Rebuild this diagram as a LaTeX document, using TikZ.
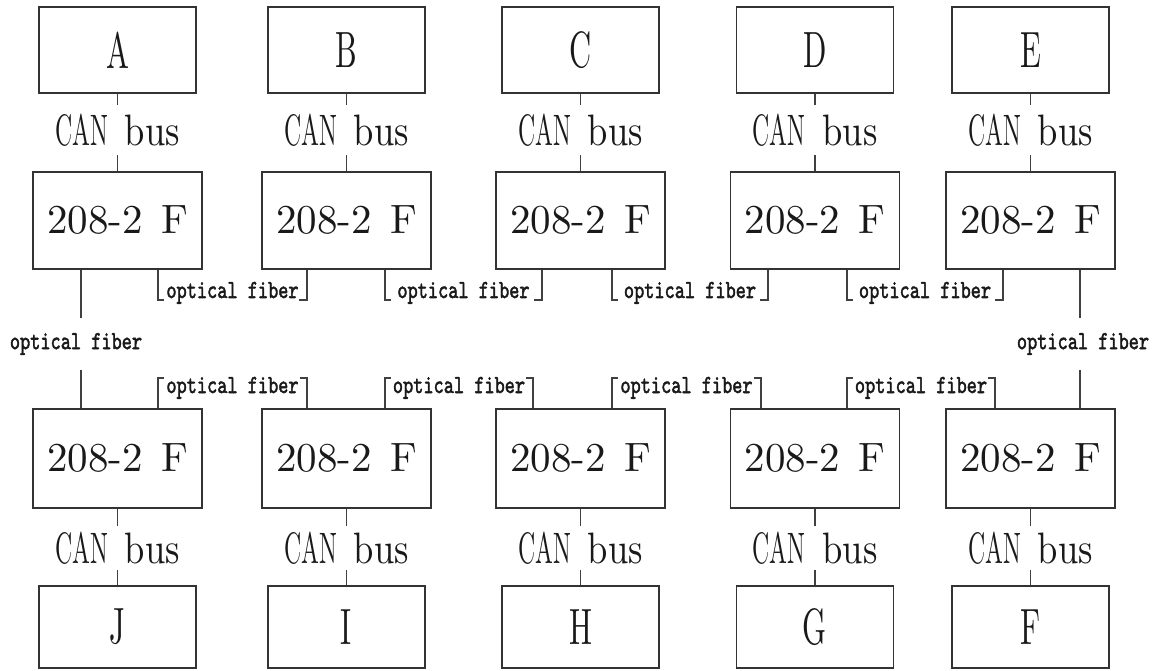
\documentclass[tikz,border=0pt]{standalone}
\usepackage{fontspec}
\usepackage{graphicx}
\newfontfamily\cnserif{lmroman10-regular.otf}
\newfontfamily\fibmono{lmmono10-regular.otf}[FakeBold=2]
\newcommand\bigletter[1]{\scalebox{0.6}[1]{\fontsize{51}{51}\selectfont\cnserif #1}}
\newcommand\canbus{{\fontsize{44}{44}\selectfont\cnserif\scalebox{0.54}[1]{CAN}\hspace{17pt}\scalebox{0.83}[1]{bus}}}
\newcommand\unitlabel{{\fontsize{41}{41}\selectfont\cnserif 208-2\hspace{0.45em}F}}
\newcommand\fibtext{\scalebox{0.745}[1]{\fontsize{26}{26}\selectfont\fibmono optical fiber}}
% top-row bracket pair: #1 left unit, #2 right unit, #3 xL, #4 xR, #5 name
\newcommand\fibdown[5]{%
  \node[lbl, anchor=base] (#5) at ({(#3+#4)/2},298) {\fibtext};
  \coordinate (#5xl) at (#3,0);
  \coordinate (#5xr) at (#4,0);
  \coordinate (#5hl) at ({#3+6},300);
  \coordinate (#5hr) at ({#4-8},300);
  \draw[ln] (#1.south -| #5xl) |- (#5hl);
  \draw[ln] (#2.south -| #5xr) |- (#5hr);
}
\newcommand\fibup[5]{%
  \node[lbl, anchor=base] (#5) at ({(#3+#4)/2},393) {\fibtext};
  \coordinate (#5xl) at (#3,0);
  \coordinate (#5xr) at (#4,0);
  \coordinate (#5hl) at ({#3+6},378);
  \coordinate (#5hr) at ({#4-7},378);
  \draw[ln] (#1.north -| #5xl) |- (#5hl);
  \draw[ln] (#2.north -| #5xr) |- (#5hr);
}
\begin{document}
\begin{tikzpicture}[x=1pt,y=-1pt,
  box/.style={draw=black!80, line width=1.5pt, inner sep=0pt, text=black!90},
  letterbox/.style={box, minimum width=157pt, minimum height=86pt},
  unitbox/.style={box, minimum width=169pt, minimum height=97pt},
  ln/.style={draw=black!75, line width=1.3pt},
  lbl/.style={inner sep=0pt, text=black!90},
  canlbl/.style={lbl, minimum height=50pt},
]
\useasboundingbox (0,0) rectangle (1157,671);

% top letter boxes
\node[letterbox] (A) at (117.5,50) {\bigletter{A}};
\node[letterbox] (B) at (346.5,50) {\bigletter{B}};
\node[letterbox] (C) at (580.5,50) {\bigletter{C}};
\node[letterbox] (D) at (815,50) {\bigletter{D}};
\node[letterbox] (E) at (1030.5,50) {\bigletter{E}};

% top units
\node[unitbox] (a2) at (117.5,220.5) {\unitlabel};
\node[unitbox] (b2) at (346.5,220.5) {\unitlabel};
\node[unitbox] (c2) at (580.5,220.5) {\unitlabel};
\node[unitbox] (d2) at (815,220.5) {\unitlabel};
\node[unitbox] (e2) at (1030.5,220.5) {\unitlabel};

% bottom units
\node[unitbox, minimum height=99pt] (a3) at (117.5,458.5) {\unitlabel};
\node[unitbox, minimum height=99pt] (b3) at (346.5,458.5) {\unitlabel};
\node[unitbox, minimum height=99pt] (c3) at (580.5,458.5) {\unitlabel};
\node[unitbox, minimum height=99pt] (d3) at (815,458.5) {\unitlabel};
\node[unitbox, minimum height=99pt] (e3) at (1030.5,458.5) {\unitlabel};

% bottom letter boxes
\node[letterbox, minimum height=82pt] (J) at (117.5,627) {\bigletter{J}};
\node[letterbox, minimum height=82pt] (I) at (346.5,627) {\bigletter{I}};
\node[letterbox, minimum height=82pt] (H) at (580.5,627) {\bigletter{H}};
\node[letterbox, minimum height=82pt] (G) at (815,627) {\bigletter{G}};
\node[letterbox, minimum height=82pt] (F) at (1030.5,627) {\bigletter{F}};

% CAN bus links, top
\foreach \t/\u/\n/\x in {A/a2/ca/117.5, B/b2/cb/346.5, C/c2/cc/580.5, D/d2/cd/815, E/e2/ce/1030.5}{
  \node[canlbl] (\n) at (\x,130) {\canbus};
  \draw[ln] (\t.south) -- (\n.north);
  \draw[ln] (\n.south) -- (\u.north);
}
% CAN bus links, bottom
\foreach \t/\u/\n/\x in {J/a3/cj/117.5, I/b3/ci/346.5, H/c3/ch/580.5, G/d3/cg/815, F/e3/cf/1030.5}{
  \node[canlbl, minimum height=44pt] (\n) at (\x,548) {\canbus};
  \draw[ln] (\u.south) -- (\n.north);
  \draw[ln] (\n.south) -- (\t.north);
}

% optical fiber brackets, top row
\fibdown{a2}{b2}{158}{307}{fab}
\fibdown{b2}{c2}{385}{542}{fbc}
\fibdown{c2}{d2}{612}{768}{fcd}
\fibdown{d2}{e2}{847}{1003}{fde}

% optical fiber brackets, bottom row
\fibup{a3}{b3}{158}{307}{gab}
\fibup{b3}{c3}{385}{533}{gbc}
\fibup{c3}{d3}{612}{761}{gcd}
\fibup{d3}{e3}{847}{995}{gde}

% side fiber links
\node[lbl, minimum height=52pt] (fl) at (76,344) {\fibtext};
\coordinate (xl) at (81,0);
\draw[ln] (a2.south -| xl) -- (fl.north -| xl);
\draw[ln] (fl.south -| xl) -- (a3.north -| xl);

\node[lbl, minimum height=52pt] (fr) at (1083,344) {\fibtext};
\coordinate (xr) at (1080,0);
\draw[ln] (e2.south -| xr) -- (fr.north -| xr);
\draw[ln] (fr.south -| xr) -- (e3.north -| xr);
\end{tikzpicture}
\end{document}
